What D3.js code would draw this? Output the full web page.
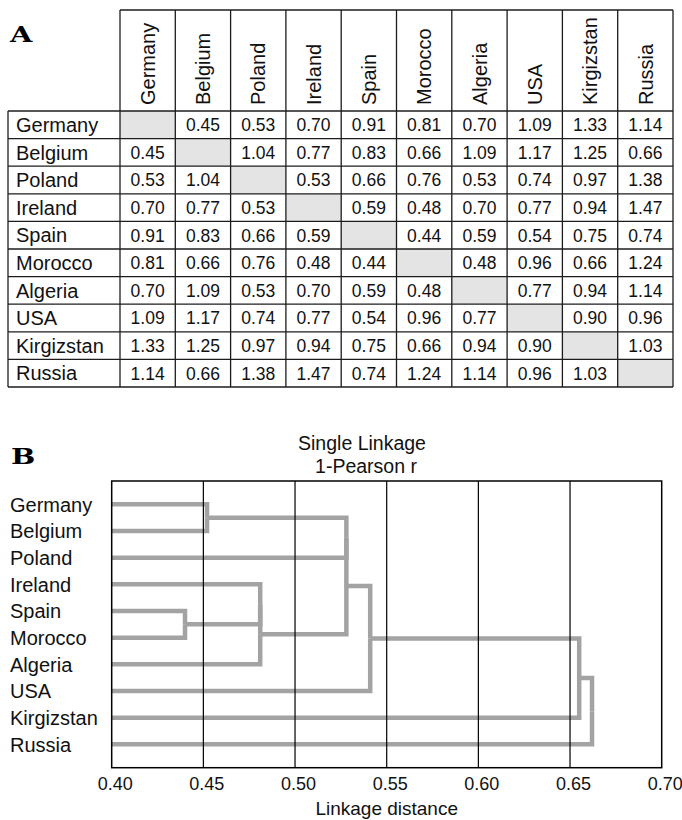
<!DOCTYPE html>
<html>
<head>
<meta charset="utf-8">
<script src="https://cdn.jsdelivr.net/npm/d3@7"></script>
<style>
  html, body { margin: 0; padding: 0; background: #fff; }
  svg { display: block; font-family: "Liberation Sans", Arial, sans-serif; }
</style>
</head>
<body>
<svg id="chart" width="682" height="820"></svg>
<script>
// Countries, in table order
const countries = ["Germany", "Belgium", "Poland", "Ireland", "Spain",
                   "Morocco", "Algeria", "USA", "Kirgizstan", "Russia"];

// Pairwise distances (1 - r); null on the diagonal
const distances = [
  [null, 0.45, 0.53, 0.70, 0.91, 0.81, 0.70, 1.09, 1.33, 1.14],
  [0.45, null, 1.04, 0.77, 0.83, 0.66, 1.09, 1.17, 1.25, 0.66],
  [0.53, 1.04, null, 0.53, 0.66, 0.76, 0.53, 0.74, 0.97, 1.38],
  [0.70, 0.77, 0.53, null, 0.59, 0.48, 0.70, 0.77, 0.94, 1.47],
  [0.91, 0.83, 0.66, 0.59, null, 0.44, 0.59, 0.54, 0.75, 0.74],
  [0.81, 0.66, 0.76, 0.48, 0.44, null, 0.48, 0.96, 0.66, 1.24],
  [0.70, 1.09, 0.53, 0.70, 0.59, 0.48, null, 0.77, 0.94, 1.14],
  [1.09, 1.17, 0.74, 0.77, 0.54, 0.96, 0.77, null, 0.90, 0.96],
  [1.33, 1.25, 0.97, 0.94, 0.75, 0.66, 0.94, 0.90, null, 1.03],
  [1.14, 0.66, 1.38, 1.47, 0.74, 1.24, 1.14, 0.96, 1.03, null]
];

// Dendrogram leaf order (top to bottom)
const leafOrder = ["Germany", "Belgium", "Poland", "Ireland", "Spain",
                   "Morocco", "Algeria", "USA", "Kirgizstan", "Russia"];

// Single-linkage merges: [cluster, first child, second child, linkage distance]
const merges = [
  ["C1", "Germany", "Belgium", 0.452],
  ["C2", "Spain", "Morocco", 0.440],
  ["C3", "Ireland", "C2", 0.481],
  ["C4", "C3", "Algeria", 0.481],
  ["C5", "C1", "Poland", 0.528],
  ["C6", "C5", "C4", 0.528],
  ["C7", "C6", "USA", 0.541],
  ["C8", "C7", "Kirgizstan", 0.655],
  ["C9", "C8", "Russia", 0.662]
];

const axisTicks = [0.40, 0.45, 0.50, 0.55, 0.60, 0.65, 0.70];

const svg = d3.select("#chart");

// Bold serif panel letter, widened a little
function panelLetter(g, letter, px, py) {
  g.append("text")
    .attr("x", px).attr("y", py)
    .attr("font-family", "'DejaVu Serif', serif")
    .attr("font-weight", "bold")
    .attr("font-size", 23)
    .attr("fill", "#000")
    .attr("transform", `translate(${px},${py}) scale(1.25,1) translate(${-px},${-py})`)
    .text(letter);
}

/* ---------------- Panel A: distance table ---------------- */
const gA = svg.append("g");
panelLetter(gA, "A", 10, 42);

const colX = d3.scaleBand().domain(countries).range([120, 673]);
const rowY = d3.scaleBand().domain(countries).range([111, 387]);
const headerTop = 10;
const labelLeft = 8;
const lineColor = "#1c1c1c";

// Shaded diagonal cells
gA.selectAll("rect.diag")
  .data(countries)
  .join("rect")
  .attr("class", "diag")
  .attr("x", d => colX(d))
  .attr("y", d => rowY(d))
  .attr("width", colX.bandwidth())
  .attr("height", rowY.bandwidth())
  .attr("fill", "#e4e4e4");

// Column headers (rotated)
gA.selectAll("text.colhead")
  .data(countries)
  .join("text")
  .attr("class", "colhead")
  .attr("transform", d => `translate(${colX(d) + colX.bandwidth() / 2},105) rotate(-90)`)
  .attr("dy", "0.36em")
  .attr("font-size", 20)
  .attr("fill", "#111")
  .text(d => d);

// Row labels
gA.selectAll("text.rowhead")
  .data(countries)
  .join("text")
  .attr("class", "rowhead")
  .attr("x", 16)
  .attr("y", d => rowY(d) + rowY.bandwidth() / 2)
  .attr("dy", "0.36em")
  .attr("font-size", 20)
  .attr("fill", "#111")
  .text(d => d);

// Cell values
const cells = [];
distances.forEach((row, i) => row.forEach((v, j) => {
  if (v !== null) cells.push({ r: countries[i], c: countries[j], v });
}));
gA.selectAll("text.val")
  .data(cells)
  .join("text")
  .attr("class", "val")
  .attr("x", d => colX(d.c) + colX.bandwidth() / 2)
  .attr("y", d => rowY(d.r) + rowY.bandwidth() / 2)
  .attr("dy", "0.36em")
  .attr("text-anchor", "middle")
  .attr("font-size", 17.5)
  .attr("fill", "#111")
  .text(d => d3.format(".2f")(d.v));

// Grid lines
const tableBottom = rowY.range()[1];
const tableRight = colX.range()[1];
const colEdges = countries.map(c => colX(c)).concat([tableRight]);
const rowEdges = countries.map(c => rowY(c)).concat([tableBottom]);

gA.selectAll("line.vcol")
  .data(colEdges)
  .join("line")
  .attr("x1", d => d).attr("x2", d => d)
  .attr("y1", headerTop).attr("y2", tableBottom)
  .attr("stroke", lineColor).attr("stroke-width", 1.3);

gA.append("line")
  .attr("x1", labelLeft).attr("x2", labelLeft)
  .attr("y1", rowY.range()[0]).attr("y2", tableBottom)
  .attr("stroke", lineColor).attr("stroke-width", 1.3);

gA.append("line")
  .attr("x1", colX.range()[0]).attr("x2", tableRight)
  .attr("y1", headerTop).attr("y2", headerTop)
  .attr("stroke", lineColor).attr("stroke-width", 1.3);

gA.selectAll("line.hrow")
  .data(rowEdges)
  .join("line")
  .attr("x1", labelLeft).attr("x2", tableRight)
  .attr("y1", d => d).attr("y2", d => d)
  .attr("stroke", lineColor).attr("stroke-width", 1.3);

/* ---------------- Panel B: dendrogram ---------------- */
const gB = svg.append("g");
panelLetter(gB, "B", 11, 464);

const plot = { left: 111.7, right: 661.7, top: 481, bottom: 767.7 };

const x = d3.scaleLinear()
  .domain([axisTicks[0], axisTicks[axisTicks.length - 1]])
  .range([plot.left, plot.right]);

const y = d3.scalePoint()
  .domain(leafOrder)
  .range([plot.top, plot.bottom])
  .padding(0.875);

// Build the tree from the merge list
const nodeMap = new Map(leafOrder.map(n => [n, { name: n }]));
merges.forEach(([id, a, b, h]) => {
  nodeMap.set(id, { name: id, height: h, children: [nodeMap.get(a), nodeMap.get(b)] });
});
const root = d3.hierarchy(nodeMap.get(merges[merges.length - 1][0]));

root.eachAfter(n => {
  if (!n.children) {
    n.py = y(n.data.name);
    n.hx = x.domain()[0];
  } else {
    n.py = (n.children[0].py + n.children[1].py) / 2;
    n.hx = n.data.height;
  }
});

// Titles
gB.append("text")
  .attr("x", 362).attr("y", 450)
  .attr("text-anchor", "middle")
  .attr("font-size", 19.5)
  .attr("fill", "#111")
  .text("Single Linkage");
gB.append("text")
  .attr("x", 366).attr("y", 473)
  .attr("text-anchor", "middle")
  .attr("font-size", 19.5)
  .attr("fill", "#111")
  .text("1-Pearson r");

// Dendrogram links: horizontal from child, vertical to parent's join point
gB.append("g")
  .selectAll("path")
  .data(root.links())
  .join("path")
  .attr("d", l => `M${x(l.target.hx)},${l.target.py}H${x(l.source.hx)}V${l.source.py}`)
  .attr("fill", "none")
  .attr("stroke", "#a3a3a3")
  .attr("stroke-width", 4.5)
  .attr("stroke-linejoin", "miter");

// Vertical grid lines
gB.append("g")
  .selectAll("line")
  .data(axisTicks.slice(1, -1))
  .join("line")
  .attr("x1", d => x(d)).attr("x2", d => x(d))
  .attr("y1", plot.top).attr("y2", plot.bottom)
  .attr("stroke", "#000").attr("stroke-width", 1.2);

// Plot frame
gB.append("rect")
  .attr("x", plot.left).attr("y", plot.top)
  .attr("width", plot.right - plot.left)
  .attr("height", plot.bottom - plot.top)
  .attr("fill", "none")
  .attr("stroke", "#000").attr("stroke-width", 1.5);

// Leaf labels
gB.selectAll("text.leaf")
  .data(leafOrder)
  .join("text")
  .attr("class", "leaf")
  .attr("x", 10)
  .attr("y", d => y(d))
  .attr("dy", "0.36em")
  .attr("font-size", 20)
  .attr("fill", "#111")
  .text(d => d);

// Bottom axis
const axis = d3.axisBottom(x)
  .tickValues(axisTicks)
  .tickFormat(d3.format(".2f"))
  .tickSize(0)
  .tickPadding(10);

const gAxis = gB.append("g")
  .attr("transform", `translate(0,${plot.bottom})`)
  .call(axis);
gAxis.select(".domain").remove();
gAxis.attr("font-size", 18).attr("font-family", null);
gAxis.selectAll("text")
  .attr("font-size", 18)
  .attr("fill", "#111")
  .attr("dx", 3);

gB.append("text")
  .attr("x", (plot.left + plot.right) / 2)
  .attr("y", 815)
  .attr("text-anchor", "middle")
  .attr("font-size", 19)
  .attr("fill", "#111")
  .text("Linkage distance");
</script>
</body>
</html>
